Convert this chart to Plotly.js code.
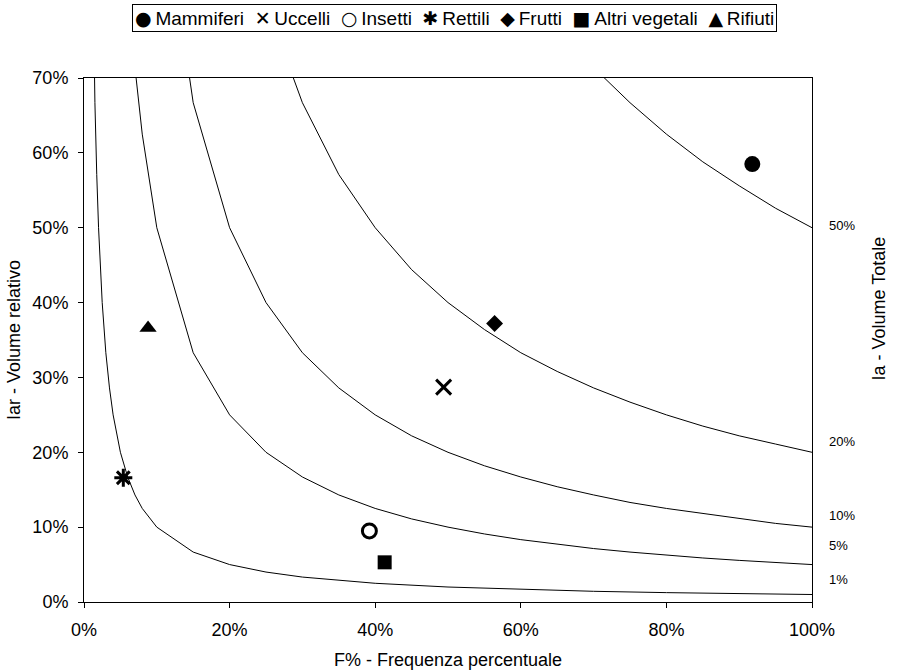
<!DOCTYPE html>
<html>
<head>
<meta charset="utf-8">
<script src="https://cdn.plot.ly/plotly-3.0.1.min.js"></script>
<style>html,body{margin:0;padding:0;background:#fff;}#chart{width:899px;height:672px;}</style>
</head>
<body>
<div id="chart"></div>
<script>
// Species (categories) and their values: F% (frequency) and Iar (relative volume)
const categories = ["Mammiferi", "Uccelli", "Insetti", "Rettili", "Frutti", "Altri vegetali", "Rifiuti"];
const freqF = [0.918, 0.494, 0.392, 0.054, 0.564, 0.413, 0.088];
const volIar = [0.585, 0.287, 0.095, 0.166, 0.372, 0.053, 0.366];
const legendGlyphs = ["\u25CF", "\u2715", "\u25CB", "\u2731", "\u25C6", "\u25A0", "\u25B2"];

// Iso-lines of total volume Ia = F% x Iar
const isoLabels = ["1%", "5%", "10%", "20%", "50%"];
const iso1x = [0.01, 0.0125, 0.015, 0.0175, 0.02, 0.025, 0.03, 0.035, 0.04, 0.05, 0.06, 0.07, 0.08, 0.1, 0.15, 0.2, 0.25, 0.3, 0.4, 0.5, 0.6, 0.7, 0.8, 0.9, 1.0];
const iso1y = [1.0, 0.8, 0.667, 0.571, 0.5, 0.4, 0.333, 0.286, 0.25, 0.2, 0.167, 0.143, 0.125, 0.1, 0.0667, 0.05, 0.04, 0.0333, 0.025, 0.02, 0.0167, 0.0143, 0.0125, 0.0111, 0.01];
const iso5x = [0.05, 0.06, 0.07, 0.08, 0.1, 0.15, 0.2, 0.25, 0.3, 0.35, 0.4, 0.45, 0.5, 0.55, 0.6, 0.65, 0.7, 0.75, 0.8, 0.85, 0.9, 0.95, 1.0];
const iso5y = [1.0, 0.833, 0.714, 0.625, 0.5, 0.333, 0.25, 0.2, 0.167, 0.143, 0.125, 0.111, 0.1, 0.0909, 0.0833, 0.0769, 0.0714, 0.0667, 0.0625, 0.0588, 0.0556, 0.0526, 0.05];
const iso10x = [0.1, 0.15, 0.2, 0.25, 0.3, 0.35, 0.4, 0.45, 0.5, 0.55, 0.6, 0.65, 0.7, 0.75, 0.8, 0.85, 0.9, 0.95, 1.0];
const iso10y = [1.0, 0.667, 0.5, 0.4, 0.333, 0.286, 0.25, 0.222, 0.2, 0.182, 0.167, 0.154, 0.143, 0.133, 0.125, 0.118, 0.111, 0.105, 0.1];
const iso20x = [0.25, 0.3, 0.35, 0.4, 0.45, 0.5, 0.55, 0.6, 0.65, 0.7, 0.75, 0.8, 0.85, 0.9, 0.95, 1.0];
const iso20y = [0.8, 0.667, 0.571, 0.5, 0.444, 0.4, 0.364, 0.333, 0.308, 0.286, 0.267, 0.25, 0.235, 0.222, 0.211, 0.2];
const iso50x = [0.7, 0.75, 0.8, 0.85, 0.9, 0.95, 1.0];
const iso50y = [0.714, 0.667, 0.625, 0.588, 0.556, 0.526, 0.5];
const isoLabelY = [0.030, 0.075, 0.115, 0.215, 0.503];

const FONT = "Liberation Sans, Arial, DejaVu Sans, sans-serif";
const isoX = [iso1x, iso5x, iso10x, iso20x, iso50x];
const isoY = [iso1y, iso5y, iso10y, iso20y, iso50y];

const traces = [];
isoX.forEach((xs, i) => {
  traces.push({type: "scatter", mode: "lines", x: xs, y: isoY[i], name: "Ia " + isoLabels[i],
    line: {color: "#000", width: 1}, showlegend: false, hoverinfo: "skip"});
});

const markerStyles = [
  {symbol: "circle", size: 16, color: "#000"},
  {symbol: "x-thin-open", size: 15, color: "#000", line: {color: "#000", width: 3}},
  {symbol: "circle-open", size: 14, color: "#000", line: {color: "#000", width: 3}},
  {symbol: "asterisk-open", size: 15, color: "#000", line: {color: "#000", width: 3}},
  {symbol: "diamond", size: 13, color: "#000"},
  {symbol: "square", size: 14, color: "#000"},
  {symbol: "triangle-up", size: 15, color: "#000"}
];
categories.forEach((c, i) => {
  traces.push({type: "scatter", mode: "markers", x: [freqF[i]], y: [volIar[i]], name: c,
    marker: markerStyles[i], showlegend: false, cliponaxis: false});
});

const legendText = categories.map((c, i) =>
  '<span style="font-family:DejaVu Sans;font-size:19px;font-weight:bold">' + legendGlyphs[i] + '</span>\u2009' + c).join("\u00A0 ");

const annotations = [
  {xref: "paper", yref: "paper", x: 0.509, y: 1.1146, xanchor: "center", yanchor: "middle",
   text: legendText, showarrow: false, font: {family: FONT, size: 19, color: "#000"},
   bordercolor: "#000", borderwidth: 1, borderpad: 2, bgcolor: "#fff"},
  {xref: "paper", yref: "paper", x: 1.092, y: 0.56, xanchor: "center", yanchor: "middle",
   text: "Ia - Volume Totale", textangle: -90, showarrow: false,
   font: {family: FONT, size: 18, color: "#000"}}
];
isoLabels.forEach((t, i) => {
  annotations.push({xref: "paper", yref: "y", x: 1.02, y: isoLabelY[i], xanchor: "left", yanchor: "middle",
    text: t, showarrow: false, font: {family: FONT, size: 13, color: "#000"}});
});

const layout = {
  width: 899, height: 672,
  margin: {l: 84, r: 87, t: 78, b: 70, pad: 0},
  paper_bgcolor: "#fff", plot_bgcolor: "#fff",
  showlegend: false,
  font: {family: FONT, color: "#000"},
  xaxis: {range: [0, 1], dtick: 0.2, tick0: 0, tickformat: ".0%", showgrid: false, zeroline: false,
    showline: true, linecolor: "#000", linewidth: 1, mirror: true, ticks: "outside", ticklen: 5,
    tickcolor: "#000", tickfont: {family: FONT, size: 18, color: "#000"}, ticklabelstandoff: 6,
    title: {text: "F% - Frequenza percentuale", font: {family: FONT, size: 18, color: "#000"}, standoff: 14}},
  yaxis: {range: [0, 0.7], dtick: 0.1, tick0: 0, tickformat: ".0%", showgrid: false, zeroline: false,
    showline: true, linecolor: "#000", linewidth: 1, mirror: true, ticks: "outside", ticklen: 5,
    tickcolor: "#000", tickfont: {family: FONT, size: 18, color: "#000"}, ticklabelstandoff: 6,
    title: {text: "Iar - Volume relativo", font: {family: FONT, size: 18, color: "#000"}, standoff: 7}},
  annotations: annotations
};

Plotly.newPlot("chart", traces, layout, {staticPlot: true, displayModeBar: false});
</script>
</body>
</html>
